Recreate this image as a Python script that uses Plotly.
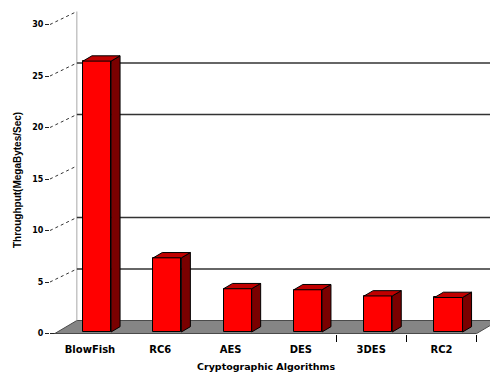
import plotly.graph_objects as go

# ---- data ----
categories = ["BlowFish", "RC6", "AES", "DES", "3DES", "RC2"]
throughput = [26.3, 7.2, 4.2, 4.1, 3.5, 3.35]
y_ticks = [0, 5, 10, 15, 20, 25, 30]
grid_values = [5, 10, 20, 25]
x_title = "Cryptographic Algorithms"
y_title = "Throughput(MegaBytes/Sec)"

# ---- 3D projection helpers (data units) ----
PX_X = 70.3   # pixels per category
PX_Y = 10.3   # pixels per unit
bar_w = 0.4
bar_base = 1.5 / PX_Y
bdx, bdy = 9 / PX_X, 5.3 / PX_Y          # bar depth offset
floor_shift = -7 / PX_X                   # front plane shift
fdx, fdy = 22 / PX_X, 13 / PX_Y           # floor depth offset
x_min, x_max = (50 - 97) / PX_X, (490 - 97) / PX_X
y_min, y_max = -0.5 / PX_Y, 333.5 / PX_Y
n = len(categories)
wall_x = -0.5 + floor_shift + fdx
label_x = x_min

FONT = "Liberation Sans"
TFONT = "DejaVu Sans"
front = "#ff0000"
side = "#7a0000"
top = "#c00000"

fig = go.Figure()

# front faces
fig.add_trace(go.Bar(
    x=list(range(n)), y=throughput, base=[bar_base] * n, width=bar_w,
    marker=dict(color=front, line=dict(color="#000000", width=1)),
    hoverinfo="skip", showlegend=False))

# side and top faces
for i, v in enumerate(throughput):
    xr = i + bar_w / 2
    xl = i - bar_w / 2
    b = bar_base
    fig.add_trace(go.Scatter(
        x=[xr, xr + bdx, xr + bdx, xr, xr],
        y=[b, b + bdy, b + v + bdy, b + v, b],
        fill="toself", fillcolor=side, mode="lines",
        line=dict(color="#000000", width=1), hoverinfo="skip", showlegend=False))
    fig.add_trace(go.Scatter(
        x=[xl, xr, xr + bdx, xl + bdx, xl],
        y=[b + v, b + v, b + v + bdy, b + v + bdy, b + v],
        fill="toself", fillcolor=top, mode="lines",
        line=dict(color="#000000", width=1), hoverinfo="skip", showlegend=False))

shapes = []
# floor
fl = -0.5 + floor_shift
fr = n - 0.5 + floor_shift
shapes.append(dict(
    type="path", xref="x", yref="y", layer="below",
    path=f"M {fl},0 L {fr},0 L {fr + fdx},{fdy} L {fl + fdx},{fdy} Z",
    fillcolor="#858585", line=dict(color="#4a4a4a", width=1)))
# back wall
shapes.append(dict(type="line", xref="x", yref="y", layer="below",
                   x0=wall_x, x1=wall_x, y0=fdy, y1=y_ticks[-1] + fdy,
                   line=dict(color="#a8a8a8", width=1)))
# back-wall grid lines
for g in grid_values:
    shapes.append(dict(type="line", xref="x", yref="y", layer="below",
                       x0=wall_x, x1=x_max, y0=g + fdy, y1=g + fdy,
                       line=dict(color="#333333", width=1.5)))
# leader lines from tick labels to wall
for t in y_ticks:
    if t == 0:
        shapes.append(dict(type="line", xref="x", yref="y", layer="below",
                           x0=label_x, x1=fl, y0=0, y1=0,
                           line=dict(color="#222222", width=1)))
    else:
        shapes.append(dict(type="line", xref="x", yref="y", layer="below",
                           x0=label_x, x1=wall_x, y0=t, y1=t + fdy,
                           line=dict(color="#333333", width=1, dash="dot")))

fig.update_layout(
    width=490, height=372,
    margin=dict(l=50, r=0, t=0, b=38),
    paper_bgcolor="white", plot_bgcolor="white",
    shapes=shapes,
    bargap=0,
    xaxis=dict(
        range=[x_min, x_max], showgrid=False, zeroline=False, showline=False,
        tickmode="array", tickvals=[i + floor_shift for i in range(n)],
        ticktext=categories, ticks="", ticklabelstandoff=8,
        tickfont=dict(family=TFONT, size=10, color="#000000", weight="bold"),
        minor=dict(tickmode="array", tickvals=[3.5 + floor_shift, 4.5 + floor_shift, 5.5 + floor_shift],
                   ticks="outside", ticklen=7, tickcolor="#000000", tickwidth=1, showgrid=False),
    ),
    yaxis=dict(
        range=[y_min, y_max], showgrid=False, zeroline=False, showline=False,
        tickmode="array", tickvals=y_ticks, ticks="outside", ticklen=4,
        tickcolor="#222222", tickwidth=1,
        tickfont=dict(family=TFONT, size=8, color="#000000", weight="bold"),
    ),
    annotations=[
        dict(text=x_title, xref="paper", yref="paper", x=(266 - 50) / 440, y=-(366 - 334) / 334,
             xanchor="center", yanchor="middle", showarrow=False,
             font=dict(family=TFONT, size=9.5, color="#000000", weight="bold")),
        dict(text=y_title, xref="paper", yref="paper", x=(17 - 50) / 440, y=(334 - 180) / 334,
             xanchor="center", yanchor="middle", showarrow=False, textangle=-90,
             font=dict(family=FONT, size=10, color="#000000", weight="bold")),
    ],
)

fig.write_html("out.html")
